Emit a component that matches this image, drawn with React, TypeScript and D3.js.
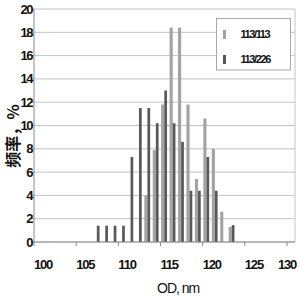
import { scaleLinear, range } from 'd3';

// bin start values (nm) and frequencies (%)
const bins = [107, 108, 109, 110, 111, 112, 113, 114, 115, 116, 117, 118, 119, 120, 121, 122, 123];
const series1 = [0, 0, 0, 0, 0, 0, 4.0, 7.9, 11.8, 18.4, 18.4, 11.8, 5.4, 10.6, 8.0, 2.6, 1.3];
const series2 = [1.4, 1.4, 1.4, 1.4, 7.3, 11.5, 11.5, 10.2, 13.0, 10.2, 8.6, 4.4, 4.4, 7.3, 4.4, 0, 1.45];
const seriesNames = ['113/113', '113/226'];
const xTicks = [100, 105, 110, 115, 120, 125, 130];
const yTicks = range(0, 21, 2);

const W = 300;
const H = 298;
const LIGHT = '#a3a3a3';
const DARK = '#585858';
const numFont = '"Liberation Sans", Arial, sans-serif';

export default function App() {
  const x = scaleLinear().domain([100, 130]).range([34, 287]);
  const y = scaleLinear().domain([0, 20]).range([242, 9]);
  const right = 295;

  return (
    <svg width={W} height={H} style={{ position: 'absolute', left: 0, top: 0, background: '#fff' }}>
      {/* plot frame + grid */}
      {yTicks.map(t => (
        <line key={t} x1={x(100)} x2={right} y1={y(t)} y2={y(t)} stroke="#c4c4c4" strokeWidth={1} />
      ))}
      <line x1={right} x2={right} y1={y(20)} y2={y(0)} stroke="#c4c4c4" />

      {/* bars */}
      {bins.map((b, i) => (
        <g key={b}>
          {series1[i] > 0 && (
            <rect x={x(b + 0.08)} width={x(b + 0.45) - x(b + 0.08)} y={y(series1[i])}
              height={y(0) - y(series1[i])} fill={LIGHT} />
          )}
          {series2[i] > 0 && (
            <rect x={x(b + 0.45)} width={x(b + 0.77) - x(b + 0.45)} y={y(series2[i])}
              height={y(0) - y(series2[i])} fill={DARK} />
          )}
        </g>
      ))}

      {/* axes */}
      <line x1={x(100)} x2={x(100)} y1={y(20)} y2={y(0)} stroke="#8a8a8a" />
      <line x1={x(100)} x2={right} y1={y(0)} y2={y(0)} stroke="#8a8a8a" />
      {yTicks.map(t => (
        <g key={t}>
          <line x1={x(100) - 3} x2={x(100)} y1={y(t)} y2={y(t)} stroke="#8a8a8a" />
          <text x={32} y={y(t) + 4.5} textAnchor="end" fontFamily={numFont} fontSize={13}
            fontWeight="bold" letterSpacing={-1.5} fill="#111">{t}</text>
        </g>
      ))}
      {xTicks.map(t => (
        <g key={t}>
          <line x1={x(t)} x2={x(t)} y1={y(0)} y2={y(0) + 4} stroke="#8a8a8a" />
          <text x={Math.min(x(t), 278)} y={269} fontFamily={numFont} fontSize={13}
            fontWeight="bold" letterSpacing={-1.2} fill="#111">{t}</text>
        </g>
      ))}

      {/* axis titles */}
      <text x={157} y={293} fontFamily={numFont} fontSize={14} letterSpacing={-1} fill="#111">OD, nm</text>
      <text transform="translate(19,136) rotate(-90)" textAnchor="middle"
        fontFamily='"Noto Sans CJK SC", sans-serif' fontSize={16} fontWeight="bold" fill="#111">频率，%</text>

      {/* legend */}
      <rect x={216.5} y={18.5} width={74} height={51.5} fill="#fff" stroke="#a8a8a8" />
      {seriesNames.map((n, i) => (
        <g key={n}>
          <rect x={223} y={30 + i * 25} width={3} height={9} fill={i === 0 ? LIGHT : DARK} />
          <text x={240.5} y={38 + i * 25} fontFamily={numFont} fontSize={11} fontWeight="bold"
            letterSpacing={-1.4} fill="#111">{n}</text>
        </g>
      ))}
    </svg>
  );
}
